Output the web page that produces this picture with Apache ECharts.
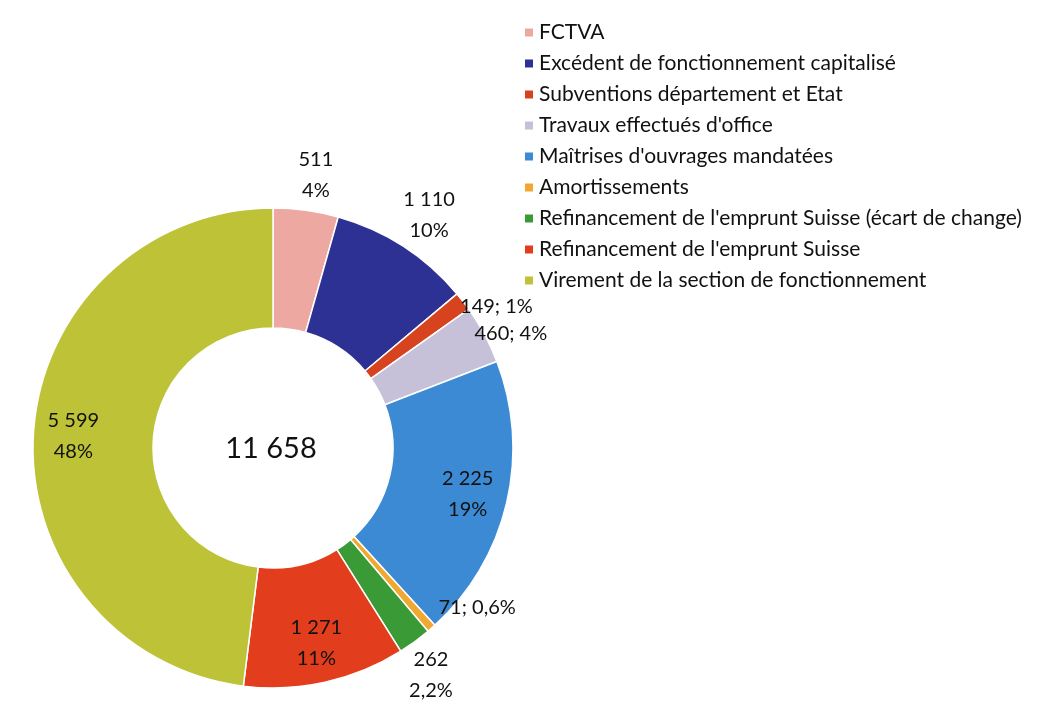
<!DOCTYPE html>
<html>
<head>
<meta charset="utf-8">
<script src="https://cdn.jsdelivr.net/npm/echarts@6/dist/echarts.min.js"></script>
<style>
  html, body { margin: 0; padding: 0; background: #fff; }
  #chart { width: 1061px; height: 704px; }
</style>
</head>
<body>
<div id="chart"></div>
<script>
const categories = [
  'FCTVA',
  'Excédent de fonctionnement capitalisé',
  'Subventions département et Etat',
  "Travaux effectués d'office",
  "Maîtrises d'ouvrages mandatées",
  'Amortissements',
  "Refinancement de l'emprunt Suisse (écart de change)",
  "Refinancement de l'emprunt Suisse",
  'Virement de la section de fonctionnement'
]
const values = [511, 1110, 149, 460, 2225, 71, 262, 1271, 5599]
const pctLabels = ['4%', '10%', '1%', '4%', '19%', '0,6%', '2,2%', '11%', '48%']

const colors = ['#EDA8A2', '#2E3194', '#D8431F', '#C6C0D8', '#3C8AD3', '#F0A830', '#3A9A35', '#E23D1C', '#BEC236']

const total = values.reduce((a, b) => a + b, 0)
function fmt(v) {
  return String(v).replace(/\B(?=(\d{3})+(?!\d))/g, ' ')
}

// how each slice label is drawn (as in the Excel original)
const insideIdx = [4, 7, 8]
const oneLineIdx = [2, 3, 5]
const lineLen = { 0: 36, 1: 38, 2: 0, 3: 0, 5: 0, 6: 36 }
const nudge = { 2: [-8, 5], 3: [-15, -1], 5: [2, -21], 6: [-10, 4] }

// mid angle of every slice, clockwise from the top
let acc = 0
const midAngle = values.map(v => {
  const a = (acc + v / 2) / total * Math.PI * 2
  acc += v
  return a
})

const font = 'Lato, "Open Sans", sans-serif'

const seriesData = categories.map((name, i) => {
  const inside = insideIdx.includes(i)
  return {
    name: name,
    value: values[i],
    itemStyle: { color: colors[i] },
    label: { position: inside ? 'inside' : 'outside' },
    labelLine: { show: false, length: lineLen[i] || 0, length2: 0 }
  }
})

const option = {
  animation: false,
  backgroundColor: '#fff',
  title: {
    text: fmt(total),
    left: 266,
    top: 444,
    textAlign: 'center',
    textVerticalAlign: 'middle',
    textStyle: { fontFamily: font, fontSize: 29, fontWeight: 'normal', color: '#111' }
  },
  legend: {
    orient: 'vertical',
    left: 518,
    top: 17,
    itemWidth: 10,
    itemHeight: 10,
    itemGap: 10,
    icon: 'rect',
    textStyle: { fontFamily: font, fontSize: 21, lineHeight: 21, color: '#111' },
    data: categories
  },
  series: [
    {
      type: 'pie',
      center: [273, 448],
      radius: [120, 240],
      startAngle: 90,
      clockwise: true,
      avoidLabelOverlap: false,
      itemStyle: { borderColor: '#fff', borderWidth: 1.5 },
      label: {
        fontFamily: font,
        fontSize: 20,
        lineHeight: 31,
        color: '#111',
        formatter: function (p) {
          const i = p.dataIndex
          if (oneLineIdx.includes(i)) return fmt(values[i]) + '; ' + pctLabels[i]
          return fmt(values[i]) + '\n' + pctLabels[i]
        }
      },
      labelLayout: function (p) {
        const i = p.dataIndex
        if (insideIdx.includes(i)) {
          const a = midAngle[i]
          return { dx: Math.sin(a) * 17, dy: -Math.cos(a) * 17 }
        }
        const out = { dx: 0, dy: 0 }
        if (nudge[i]) {
          out.dx = nudge[i][0]
          out.dy = nudge[i][1]
        }
        if (!oneLineIdx.includes(i)) out.align = 'center'
        return out
      },
      data: seriesData
    }
  ]
}

const chart = echarts.init(document.getElementById('chart'))
chart.setOption(option)
window.addEventListener('resize', function () {
  chart.resize()
})
</script>
</body>
</html>
